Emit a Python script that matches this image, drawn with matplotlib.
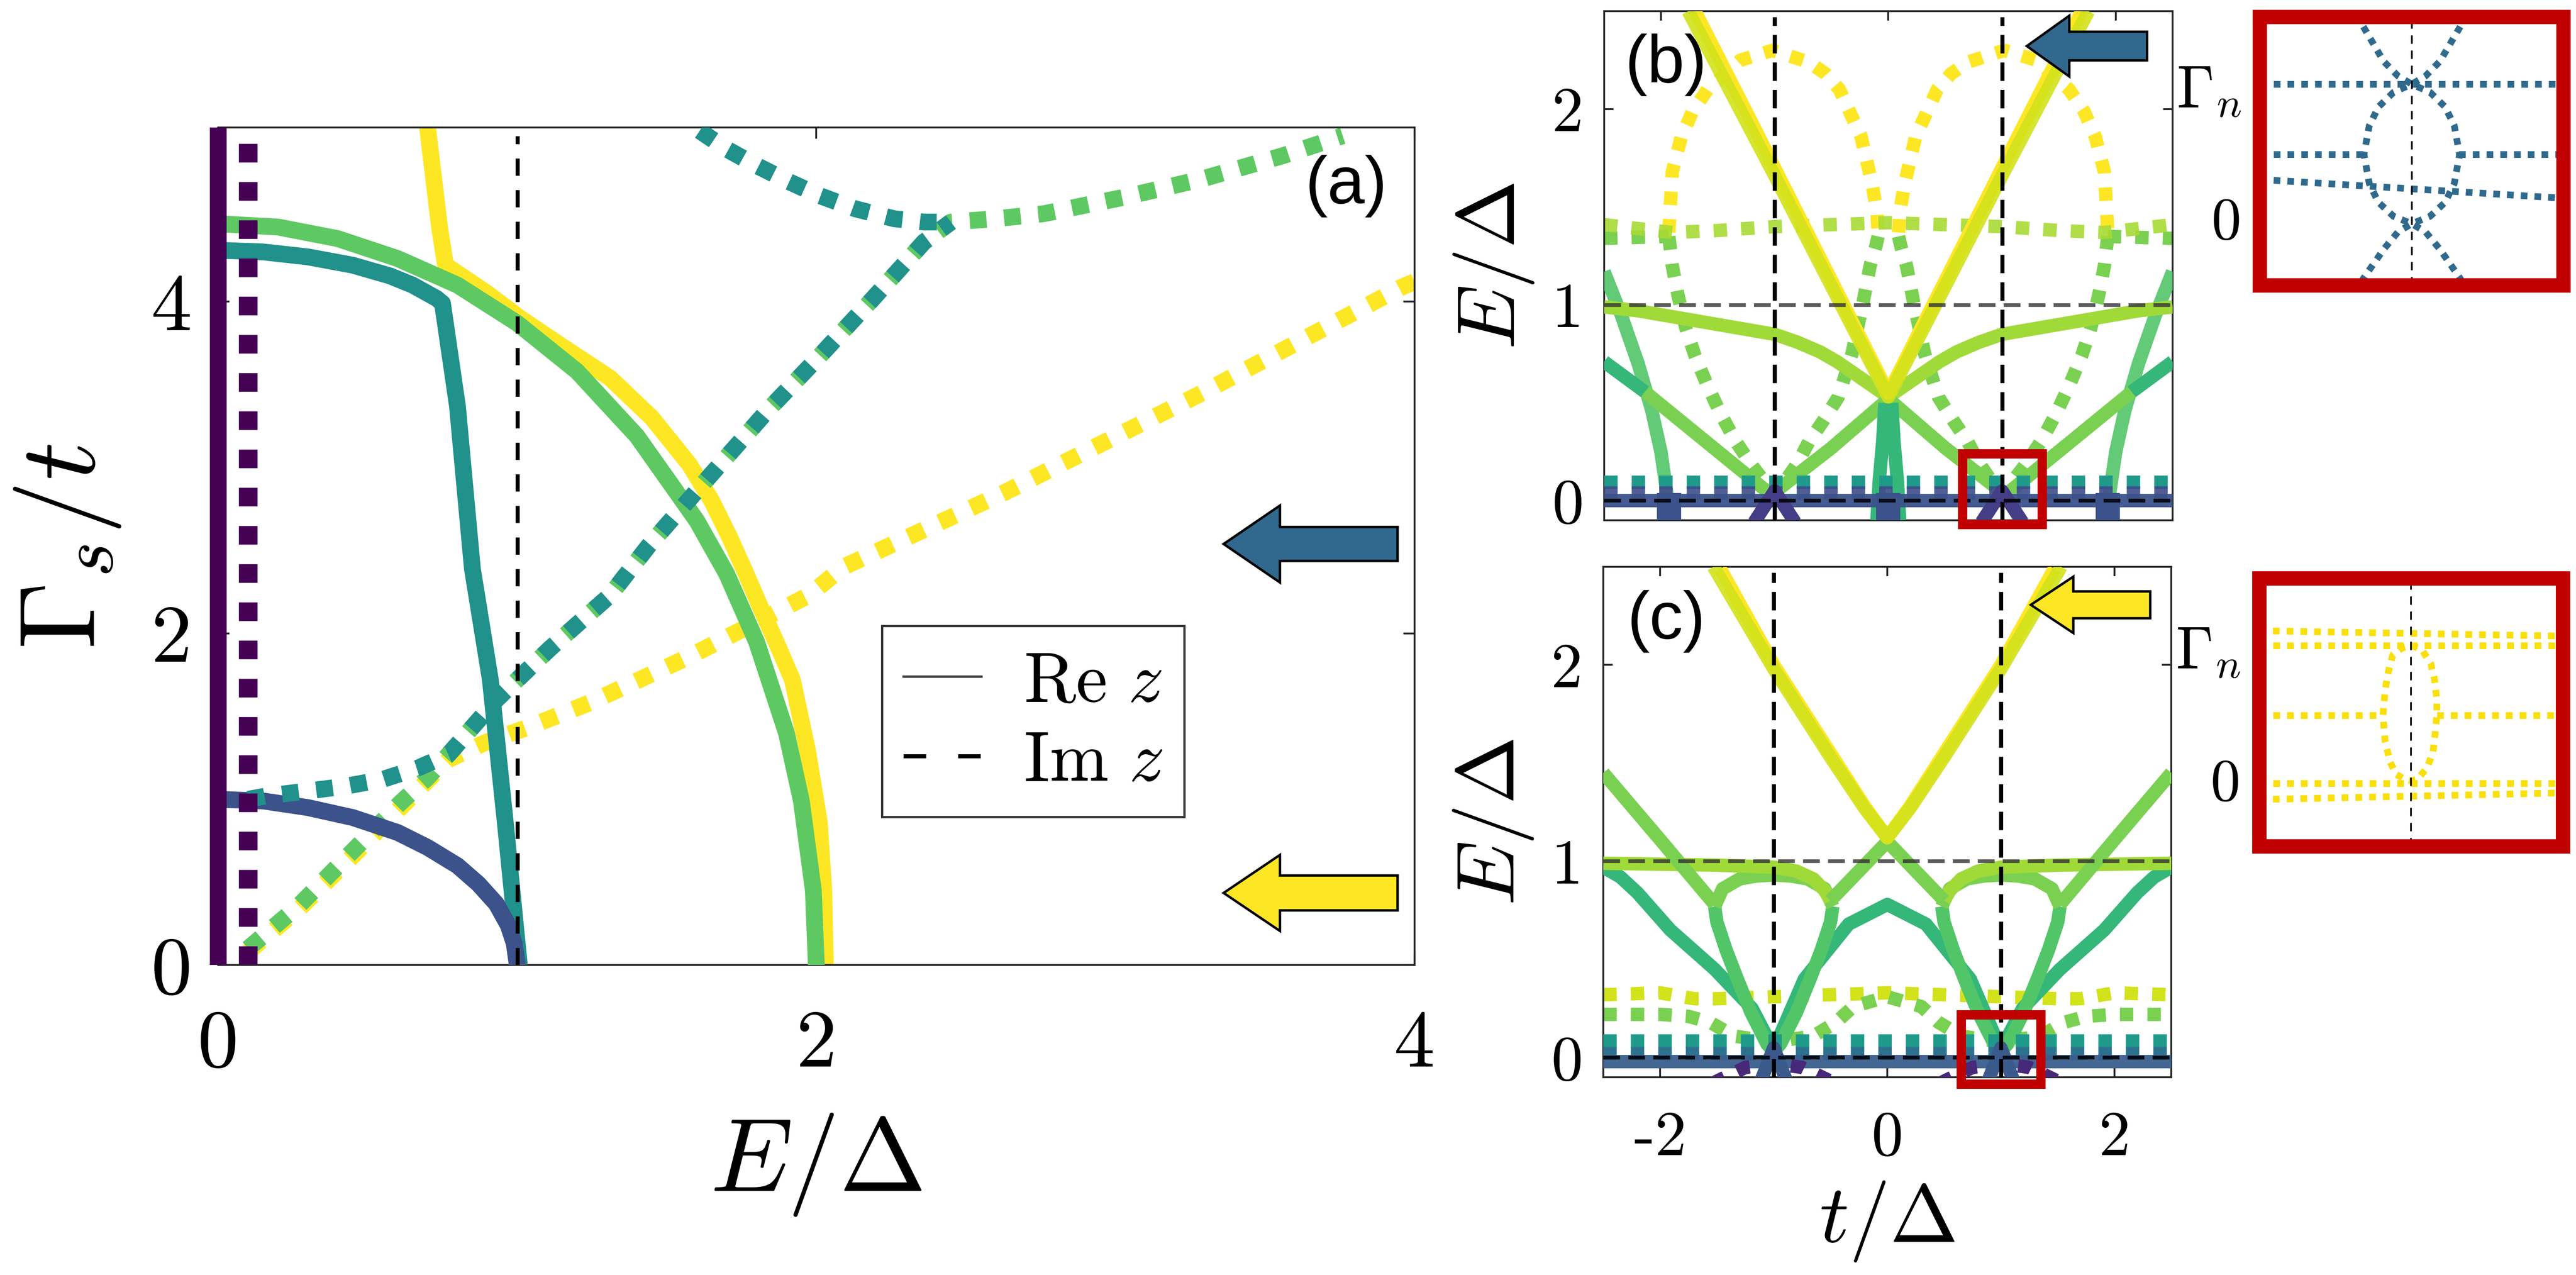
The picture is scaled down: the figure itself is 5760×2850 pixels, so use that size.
import numpy as np
import matplotlib
matplotlib.use('Agg')
from matplotlib import pyplot as plt
from matplotlib.lines import Line2D
from matplotlib.patches import Polygon, Rectangle

plt.rcParams['mathtext.fontset'] = 'cm'
plt.rcParams['font.family'] = ['DejaVu Sans']
plt.rcParams['axes.unicode_minus'] = False

# ---------------- panel (a): Gamma_s/t versus E/Delta ----------------
a_purple_E, a_purple_G = [0.0, 0.0], [0.0, 5.05]
a_purpdot_E, a_purpdot_G = [0.1, 0.1], [0.0, 5.0]
a_blue_E = [0.0, 0.15, 0.3, 0.45, 0.6, 0.7, 0.8, 0.87, 0.93, 0.97, 0.99, 1.0]
a_blue_G = [1.0, 0.99, 0.95, 0.89, 0.80, 0.71, 0.60, 0.49, 0.37, 0.24, 0.13, 0.0]
a_green_E = [0.0, 0.2, 0.4, 0.6, 0.8, 1.0, 1.2, 1.4, 1.6, 1.7, 1.8, 1.9, 1.95, 1.99, 2.0]
a_green_G = [4.47, 4.45, 4.38, 4.26, 4.10, 3.87, 3.58, 3.19, 2.68, 2.36, 1.95, 1.40, 0.99, 0.45, 0.0]
a_yel_E = [0.70, 0.72, 0.74, 0.76, 0.9, 1.01, 1.15, 1.31, 1.45, 1.575, 1.65, 1.71, 1.76, 1.815,
           1.87, 1.92, 1.97, 2.01, 2.025, 2.03]
a_yel_G = [5.05, 4.75, 4.45, 4.22, 4.05, 3.90, 3.73, 3.54, 3.30, 3.02, 2.80, 2.58, 2.38, 2.15,
           1.93, 1.72, 1.30, 0.86, 0.45, 0.0]
a_teal_E = [0.0, 0.15, 0.3, 0.45, 0.575, 0.65, 0.73, 0.75, 0.80, 0.85, 0.91, 0.96, 1.007]
a_teal_G = [4.31, 4.30, 4.27, 4.22, 4.155, 4.10, 4.02, 3.99, 3.37, 2.39, 1.72, 0.86, 0.0]
# dotted (Im z) branches
a_tealdot_up_E = [1.61, 1.70, 1.79, 1.90, 2.01, 2.13, 2.26, 2.36, 2.45]
a_tealdot_up_G = [5.03, 4.92, 4.83, 4.73, 4.64, 4.56, 4.50, 4.48, 4.48]
a_tealdot_lo_E = [0.1, 0.16, 0.3, 0.43, 0.55, 0.67, 0.77, 0.93, 1.11, 1.31, 1.44, 1.61, 1.84, 2.01,
                  2.19, 2.36, 2.45]
a_tealdot_lo_G = [1.0, 1.02, 1.05, 1.08, 1.12, 1.19, 1.27, 1.60, 1.91, 2.23, 2.53, 2.88, 3.35, 3.67,
                  4.02, 4.36, 4.48]
a_greendot_E = [0.1, 0.27, 0.44, 0.61, 0.70, 0.77, 0.93, 1.11, 1.31, 1.44, 1.61, 1.84, 2.01, 2.19, 2.36,
                2.45, 2.6, 2.76, 3.03, 3.29, 3.56, 3.76]
a_greendot_G = [0.1, 0.36, 0.67, 0.98, 1.13, 1.27, 1.60, 1.91, 2.23, 2.53, 2.88, 3.35, 3.67, 4.02, 4.36,
                4.48, 4.50, 4.53, 4.63, 4.74, 4.88, 5.0]
a_yeldot_E = [0.1, 0.27, 0.44, 0.61, 0.77, 0.89, 1.03, 1.24, 1.575, 1.975, 2.09, 2.63, 3.29, 3.96, 4.0]
a_yeldot_G = [0.08, 0.34, 0.64, 0.95, 1.24, 1.34, 1.43, 1.58, 1.86, 2.23, 2.40, 2.85, 3.45, 4.09, 4.12]

# ---------------- panel (b): E/Delta versus t/Delta ----------------
b_yel_t = [-1.70, -1.2, -0.6, 0.0, 0.6, 1.2, 1.70]
b_yel_E = [2.5, 1.93, 1.24, 0.55, 1.24, 1.93, 2.5]
b_yg_t = [-1.76, -1.0, 0.0, 1.0, 1.76]
b_yg_E = [2.5, 1.66, 0.53, 1.66, 2.5]
b_arc_t = [-2.5, -2.2, -1.9, -1.5, -1.0, -0.8, -0.6, -0.45, -0.3, -0.15, 0.0,
           0.15, 0.3, 0.45, 0.6, 0.8, 1.0, 1.5, 1.9, 2.2, 2.5]
b_arc_E = [0.99, 0.97, 0.94, 0.90, 0.85, 0.81, 0.76, 0.71, 0.65, 0.59, 0.53,
           0.59, 0.65, 0.71, 0.76, 0.81, 0.85, 0.90, 0.94, 0.97, 0.99]
b_zig_t = [-2.14, -1.6, -1.03, -0.5, 0.0, 0.5, 1.03, 1.6, 2.14]
b_zig_E = [0.556, 0.30, 0.03, 0.27, 0.52, 0.27, 0.03, 0.30, 0.556]
b_kinkL_t, b_kinkL_E = [-2.5, -2.14], [0.71, 0.556]
b_kinkR_t, b_kinkR_E = [2.14, 2.5], [0.556, 0.71]
b_steepL_t = [-2.5, -2.35, -2.2, -2.08, -2.0, -1.95, -1.93]
b_steepL_E = [1.17, 0.95, 0.70, 0.46, 0.25, 0.05, -0.1]
b_steepR_t = [2.5, 2.35, 2.2, 2.08, 2.0, 1.95, 1.93]
b_steepR_E = [1.17, 0.95, 0.70, 0.46, 0.25, 0.05, -0.1]
b_stemL_t, b_stemL_E = [-0.03, -0.05, -0.08, -0.1], [0.5, 0.3, 0.1, -0.1]
b_stemR_t, b_stemR_E = [0.03, 0.05, 0.08, 0.1], [0.5, 0.3, 0.1, -0.1]
b_archL_t = [-1.93, -1.92, -1.9, -1.82, -1.72, -1.59, -1.3, -1.02, -0.7, -0.55, -0.43, -0.24, -0.14,
             -0.1, -0.09]
b_archL_E = [1.37, 1.48, 1.68, 1.86, 1.99, 2.10, 2.25, 2.30, 2.24, 2.18, 2.10, 1.86, 1.61, 1.47, 1.37]
b_archR_t = [0.09, 0.1, 0.14, 0.24, 0.43, 0.55, 0.7, 1.02, 1.3, 1.59, 1.72, 1.82, 1.9, 1.92, 1.93]
b_archR_E = [1.37, 1.47, 1.61, 1.86, 2.10, 2.18, 2.24, 2.30, 2.25, 2.10, 1.99, 1.86, 1.68, 1.48, 1.37]
b_loopL_t = [-1.93, -1.90, -1.85, -1.78, -1.70, -1.60, -1.48, -1.35, -1.2, -1.08, -1.0,
             -0.92, -0.8, -0.7, -0.57, -0.44, -0.32, -0.22, -0.16, -0.11, -0.09]
b_loopL_E = [1.35, 1.2, 1.05, 0.88, 0.74, 0.6, 0.45, 0.31, 0.18, 0.09, 0.04,
             0.09, 0.19, 0.30, 0.41, 0.53, 0.75, 1.02, 1.2, 1.3, 1.35]
b_loopR_t = [0.09, 0.11, 0.16, 0.22, 0.32, 0.44, 0.57, 0.7, 0.8, 0.92, 1.0,
             1.08, 1.2, 1.35, 1.48, 1.60, 1.70, 1.78, 1.85, 1.90, 1.93]
b_loopR_E = [1.35, 1.3, 1.2, 1.02, 0.75, 0.53, 0.41, 0.30, 0.19, 0.09, 0.04,
             0.09, 0.18, 0.31, 0.45, 0.6, 0.74, 0.88, 1.05, 1.2, 1.35]
b_ygdot_t = [-2.5, -2.2, -1.9, -1.5, -1.0, -0.5, 0.0, 0.5, 1.0, 1.5, 1.9, 2.2, 2.5]
b_ygdot_E = [1.41, 1.39, 1.37, 1.38, 1.40, 1.41, 1.42, 1.41, 1.40, 1.38, 1.37, 1.39, 1.41]
b_gdotL_t, b_gdotL_E = [-2.5, -2.2, -1.93], [1.34, 1.345, 1.35]
b_gdotR_t, b_gdotR_E = [1.93, 2.2, 2.5], [1.35, 1.345, 1.34]
b_band_t = [-2.5, 2.5]
b_tealdot_E = [0.095, 0.095]
b_bluedot_E = [0.04, 0.04]
b_blue_E = [0.0, 0.0]
b_lamL_t, b_lamL_E = [-1.18, -1.0, -0.82], [-0.11, 0.05, -0.11]
b_lamR_t, b_lamR_E = [0.82, 1.0, 1.18], [-0.11, 0.05, -0.11]
b_stub_t = [-1.93, 0.0, 1.93]

# ---------------- panel (c) ----------------
c_yel_t = [-1.47, -1.0, -0.5, -0.2, 0.0, 0.2, 0.5, 1.0, 1.47]
c_yel_E = [2.49, 2.0, 1.55, 1.28, 1.12, 1.28, 1.55, 2.0, 2.49]
c_yg_t = [-1.53, -1.0, -0.5, -0.2, 0.0, 0.2, 0.5, 1.0, 1.53]
c_yg_E = [2.5, 1.98, 1.53, 1.27, 1.12, 1.27, 1.53, 1.98, 2.5]
c_lgL_t, c_lgL_E = [-2.5, -2.0, -1.52], [1.45, 1.11, 0.78]
c_lgC_t, c_lgC_E = [-0.5, -0.25, 0.0, 0.25, 0.5], [0.80, 0.95, 1.10, 0.95, 0.80]
c_lgR_t, c_lgR_E = [1.52, 2.0, 2.5], [0.78, 1.11, 1.45]
c_archL_t = [-1.52, -1.45, -1.3, -1.15, -1.0, -0.85, -0.7, -0.55, -0.48]
c_archR_t = [0.48, 0.55, 0.7, 0.85, 1.0, 1.15, 1.3, 1.45, 1.52]
c_arch_E = [0.77, 0.86, 0.91, 0.925, 0.93, 0.925, 0.91, 0.86, 0.77]
c_vL_t = [-1.52, -1.50, -1.42, -1.32, -1.2, -1.06, -1.0, -0.94, -0.8, -0.68, -0.58, -0.50, -0.48]
c_vR_t = [0.48, 0.50, 0.58, 0.68, 0.8, 0.94, 1.0, 1.06, 1.2, 1.32, 1.42, 1.50, 1.52]
c_v_E = [0.77, 0.69, 0.55, 0.40, 0.23, 0.07, 0.03, 0.07, 0.23, 0.40, 0.55, 0.69, 0.77]
c_big_t = [-2.5, -2.35, -2.2, -1.91, -1.52, -1.19, -1.0, -0.73, -0.34, 0.0, 0.34, 0.73, 1.0,
           1.19, 1.52, 1.91, 2.2, 2.35, 2.5]
c_big_E = [0.97, 0.92, 0.84, 0.65, 0.45, 0.25, 0.04, 0.40, 0.68, 0.78, 0.68, 0.40, 0.04,
           0.25, 0.45, 0.65, 0.84, 0.92, 0.97]
c_flatL_t = [-2.5, -2.0, -1.5, -1.0, -0.8, -0.65, -0.55, -0.5]
c_flatR_t = [0.5, 0.55, 0.65, 0.8, 1.0, 1.5, 2.0, 2.5]
c_flatL_E = [0.99, 0.985, 0.98, 0.97, 0.95, 0.91, 0.85, 0.80]
c_flatR_E = [0.80, 0.85, 0.91, 0.95, 0.97, 0.98, 0.985, 0.99]
c_ygdot_t = [-2.5, -2.0, -1.7, -1.5, -1.0, -0.5, 0.0, 0.5, 1.0, 1.5, 1.7, 2.0, 2.5]
c_ygdot_E = [0.32, 0.33, 0.30, 0.30, 0.31, 0.32, 0.33, 0.32, 0.31, 0.30, 0.30, 0.33, 0.32]
c_gdot_t = [-2.5, -2.0, -1.75, -1.56, -1.35, -1.0, -0.65, -0.45, -0.3, 0.0, 0.3, 0.45, 0.65,
            1.0, 1.35, 1.56, 1.75, 2.0, 2.5]
c_gdot_E = [0.22, 0.22, 0.21, 0.18, 0.11, 0.08, 0.11, 0.18, 0.26, 0.31, 0.26, 0.18, 0.11,
            0.08, 0.11, 0.18, 0.21, 0.22, 0.22]
c_band_t = [-2.5, 2.5]
c_tealdot_E = [0.085, 0.085]
c_bluedot_E = [0.02, 0.02]
c_blue_E = [-0.02, -0.02]
c_purpL_t = [-1.75, -1.5, -1.25, -1.0, -0.75, -0.5, -0.25]
c_purpR_t = [0.25, 0.5, 0.75, 1.0, 1.25, 1.5, 1.75]
c_purp_E = [-0.2, -0.12, -0.05, -0.03, -0.05, -0.12, -0.2]
c_lamL_t, c_lamL_E = [-1.12, -1.0, -0.88], [-0.13, 0.05, -0.13]
c_lamR_t, c_lamR_E = [0.88, 1.0, 1.12], [-0.13, 0.05, -0.13]

# ---------------- zoom insets ----------------
ib_top_x, ib_top_y = [-1, 1], [1.0, 1.0]
ib_midL_x, ib_midR_x, ib_mid_y = [-1, -0.32], [0.31, 1], [0.477, 0.477]
ib_slope_x, ib_slope_y = [-1, 1], [0.29, 0.15]
ib_A_x = [-0.36, -0.32, -0.185, -0.09, 0.0, 0.12, 0.22, 0.28, 0.315, 0.28, 0.22, 0.12, 0.0,
          -0.09, -0.185, -0.32, -0.36]
ib_B_x = [0.36, 0.32, 0.185, 0.09, 0.0, -0.12, -0.22, -0.28, -0.315, -0.28, -0.22, -0.12, 0.0,
          0.09, 0.185, 0.32, 0.36]
ib_AB_y = [1.52, 1.43, 1.17, 1.06, 1.0, 0.94, 0.83, 0.69, 0.477, 0.26, 0.12, 0.015, -0.04,
           -0.10, -0.23, -0.45, -0.53]

ic_line_x = [-1, 1]
ic_top1_y, ic_top2_y = [1.11, 1.07], [1.0, 1.0]
ic_midL_x, ic_midR_x, ic_mid_y = [-1, -0.185], [0.17, 1], [0.48, 0.48]
ic_bot1_y, ic_bot2_y = [-0.03, -0.03], [-0.15, -0.10]
ic_loop_x = [0.0, 0.07, 0.13, 0.155, 0.17, 0.17, 0.16, 0.145, 0.105, 0.04, 0.0, -0.04, -0.10, -0.137,
             -0.17, -0.185, -0.17, -0.15, -0.12, -0.06, 0.0]
ic_loop_y = [1.0, 0.97, 0.865, 0.745, 0.595, 0.48, 0.355, 0.205, 0.085, 0.0, -0.01, 0.0, 0.04, 0.13,
             0.28, 0.48, 0.67, 0.80, 0.93, 0.98, 1.0]

# ---------------- styles ----------------
DOT = (0, (1, 1.05))
V = {'purple': '#440154', 'blue': '#3B528B', 'teal': '#21918C', 'green': '#5EC962',
     'yellow': '#FDE725', 'yg': '#D2E21B', 'lg': '#A0DA39', 'g': '#7AD151', 'mg': '#52C569',
     'tg': '#35B779', 'dteal': '#1F9A8A', 'dblue': '#3E4C8A', 'indigo': '#433E85',
     'arrowblue': '#31688E', 'iblue': '#2F6A8D', 'iyel': '#FADF0A'}
RED = '#C00000'
TICKFONT = 'cmr10'
LABELFONT = ['Liberation Sans', 'DejaVu Sans']


def solid(ax, x, y, c, lw, **kw):
    ax.plot(x, y, color=c, lw=lw, solid_capstyle='butt', solid_joinstyle='round', **kw)


def dotted(ax, x, y, c, lw, **kw):
    ax.plot(x, y, color=c, lw=lw, ls=DOT, dash_capstyle='butt', **kw)


def style_axes(ax, fs, ticklen):
    ax.tick_params(direction='in', top=True, right=True, length=ticklen, width=1.0,
                   colors='#262626', labelcolor='black', labelsize=fs)
    for s in ax.spines.values():
        s.set_linewidth(1.0)
        s.set_color('#262626')


fig = plt.figure(figsize=(19.2, 9.5), dpi=300)
W, H = 5760, 2850

# ======================== (a) ========================
axa = fig.add_axes([0.0847, 0.2430, 0.4644, 0.6570])
LA = 9.0
solid(axa, a_purple_E, a_purple_G, V['purple'], LA, zorder=5, clip_on=False)
dotted(axa, a_purpdot_E, a_purpdot_G, V['purple'], 10, zorder=5)
solid(axa, a_yel_E, a_yel_G, V['yellow'], LA, zorder=2)
solid(axa, a_green_E, a_green_G, V['green'], LA, zorder=3)
solid(axa, a_teal_E, a_teal_G, V['teal'], LA, zorder=3)
solid(axa, a_blue_E, a_blue_G, V['blue'], LA, zorder=3)
dotted(axa, a_yeldot_E, a_yeldot_G, V['yellow'], LA, zorder=2)
dotted(axa, a_greendot_E, a_greendot_G, V['green'], LA, zorder=2)
dotted(axa, a_tealdot_lo_E, a_tealdot_lo_G, V['teal'], LA, zorder=3)
dotted(axa, a_tealdot_up_E, a_tealdot_up_G, V['teal'], LA, zorder=3)
axa.plot([1, 1], [0, 5.0], color='black', lw=2.2, ls=(0, (4.2, 3.5)), zorder=4)
axa.set_xlim(0, 4)
axa.set_ylim(0, 5.05)
axa.set_xticks([0, 2, 4])
axa.set_yticks([0, 2, 4])
axa.set_xticklabels(['0', '2', '4'], fontfamily=TICKFONT)
axa.set_yticklabels(['0', '2', '4'], fontfamily=TICKFONT)
style_axes(axa, 44, 6)
axa.tick_params(axis='x', pad=24)
axa.tick_params(axis='y', pad=14)
axa.set_xlabel(r'$E/\Delta$', fontsize=56)
axa.xaxis.set_label_coords(0.5, -0.175)
axa.set_ylabel(r'$\Gamma_s/t$', fontsize=58)
axa.yaxis.set_label_coords(-0.08, 0.5)
axa.text(0.943, 0.93, '(a)', transform=axa.transAxes, ha='center', va='center',
         fontsize=36, family=LABELFONT)
leg_handles = [Line2D([], [], color='#404040', lw=1.3),
               Line2D([], [], color='black', lw=2.2, ls=(0, (5.5, 7.8)))]
leg = axa.legend(leg_handles, [r'$\mathrm{Re}\ z$', r'$\mathrm{Im}\ z$'], loc='upper left',
                 bbox_to_anchor=(0.555, 0.405), fontsize=38, frameon=True, fancybox=False,
                 framealpha=1, edgecolor='#333333', handlelength=1.1, handletextpad=0.6,
                 borderpad=0.3, labelspacing=0.15, borderaxespad=0)
leg.get_frame().set_linewidth(1.2)

# ======================== (b) ========================
axb = fig.add_axes([0.6227, 0.5919, 0.2207, 0.3993])
LB = 7.2
dotted(axb, b_archL_t, b_archL_E, V['yellow'], LB, zorder=2)
dotted(axb, b_archR_t, b_archR_E, V['yellow'], LB, zorder=2)
dotted(axb, b_loopL_t, b_loopL_E, V['g'], LB, zorder=2)
dotted(axb, b_loopR_t, b_loopR_E, V['g'], LB, zorder=2)
dotted(axb, b_gdotL_t, b_gdotL_E, V['g'], LB, zorder=2)
dotted(axb, b_gdotR_t, b_gdotR_E, V['g'], LB, zorder=2)
dotted(axb, b_ygdot_t, b_ygdot_E, '#A8DB34', LB, zorder=2, alpha=0.9)
solid(axb, b_steepL_t, b_steepL_E, V['mg'], LB, zorder=3, alpha=0.9)
solid(axb, b_steepR_t, b_steepR_E, V['mg'], LB, zorder=3, alpha=0.9)
solid(axb, b_kinkL_t, b_kinkL_E, V['tg'], LB, zorder=3)
solid(axb, b_kinkR_t, b_kinkR_E, V['tg'], LB, zorder=3)
solid(axb, b_arc_t, b_arc_E, V['lg'], LB, zorder=3)
solid(axb, b_zig_t, b_zig_E, V['g'], LB, zorder=3)
solid(axb, b_stemL_t, b_stemL_E, V['tg'], LB, zorder=3)
solid(axb, b_stemR_t, b_stemR_E, V['tg'], LB, zorder=3)
solid(axb, b_yel_t, b_yel_E, V['yellow'], LB, zorder=4)
solid(axb, b_yg_t, b_yg_E, V['yg'], LB, zorder=4, alpha=0.9)
dotted(axb, b_band_t, b_tealdot_E, V['dteal'], LB, zorder=5)
dotted(axb, b_band_t, b_bluedot_E, V['dblue'], LB, zorder=5, alpha=0.9)
solid(axb, b_band_t, b_blue_E, V['blue'], LB, zorder=5, alpha=0.95)
for tt in b_stub_t:
    solid(axb, [tt, tt], [0.04, -0.1], V['blue'], 13, zorder=5)
solid(axb, b_lamL_t, b_lamL_E, V['indigo'], LB, zorder=6)
solid(axb, b_lamR_t, b_lamR_E, V['indigo'], LB, zorder=6)

# ======================== (c) ========================
axc = fig.add_axes([0.6224, 0.1551, 0.2205, 0.4004])
dotted(axc, c_ygdot_t, c_ygdot_E, V['yg'], LB, zorder=2)
dotted(axc, c_gdot_t, c_gdot_E, V['g'], LB, zorder=2)
solid(axc, c_big_t, c_big_E, V['tg'], LB, zorder=3)
solid(axc, c_vL_t, c_v_E, V['mg'], LB, zorder=3)
solid(axc, c_vR_t, c_v_E, V['mg'], LB, zorder=3)
solid(axc, c_archL_t, c_arch_E, V['g'], LB, zorder=3)
solid(axc, c_archR_t, c_arch_E, V['g'], LB, zorder=3)
solid(axc, c_flatL_t, c_flatL_E, V['lg'], LB, zorder=3)
solid(axc, c_flatR_t, c_flatR_E, V['lg'], LB, zorder=3)
solid(axc, c_lgL_t, c_lgL_E, V['g'], LB, zorder=3)
solid(axc, c_lgC_t, c_lgC_E, V['g'], LB, zorder=3)
solid(axc, c_lgR_t, c_lgR_E, V['g'], LB, zorder=3)
solid(axc, c_yel_t, c_yel_E, V['yellow'], LB, zorder=4)
solid(axc, c_yg_t, c_yg_E, V['yg'], LB, zorder=4, alpha=0.9)
dotted(axc, c_band_t, c_tealdot_E, V['dteal'], LB, zorder=5)
dotted(axc, c_band_t, c_bluedot_E, '#2C728E', LB, zorder=5)
solid(axc, c_band_t, c_blue_E, '#3A5E8C', LB, zorder=5, alpha=0.95)
dotted(axc, c_purpL_t, c_purp_E, '#482878', LB, zorder=6)
dotted(axc, c_purpR_t, c_purp_E, '#482878', LB, zorder=6)
solid(axc, c_lamL_t, c_lamL_E, '#3B5A8C', LB, zorder=6)
solid(axc, c_lamR_t, c_lamR_E, '#3B5A8C', LB, zorder=6)

for ax, box in ((axb, (0.65, -0.12, 0.7, 0.36)), (axc, (0.65, -0.135, 0.7, 0.355))):
    for tt in (-1, 1):
        ax.plot([tt, tt], [-0.1, 2.47], color='black', lw=2.2, ls=(0, (4.5, 2.2)), zorder=7)
    ax.axhline(1.0, color='#333333', lw=2.0, ls=(0, (4.5, 2.2)), alpha=0.8, zorder=7)
    ax.axhline(0.0, color='black', lw=2.0, ls=(0, (4.5, 2.2)), alpha=0.85, zorder=7)
    ax.add_patch(Rectangle(box[:2], box[2], box[3], fill=False, ec=RED, lw=5,
                           clip_on=False, zorder=8))
    ax.set_xlim(-2.5, 2.5)
    ax.set_ylim(-0.1, 2.5)
    ax.set_xticks([-2, 0, 2])
    ax.set_yticks([0, 1, 2])
    ax.set_yticklabels(['0', '1', '2'], fontfamily=TICKFONT)
    style_axes(ax, 34, 5)
    ax.tick_params(axis='y', pad=11)
    ax.set_ylabel(r'$E/\Delta$', fontsize=44)
    ax.yaxis.set_label_coords(-0.12, 0.5)
axb.set_xticklabels([])
axc.set_xticklabels(['-2', '0', '2'], fontfamily=TICKFONT)
axc.tick_params(axis='x', pad=18)
axc.set_xlabel(r'$t/\Delta$', fontsize=44)
axc.xaxis.set_label_coords(0.5, -0.2)
axb.text(0.109, 0.895, '(b)', transform=axb.transAxes, ha='center', va='center',
         fontsize=36, family=LABELFONT, zorder=9)
axc.text(0.111, 0.893, '(c)', transform=axc.transAxes, ha='center', va='center',
         fontsize=36, family=LABELFONT, zorder=9)

# ======================== insets ========================
axib = fig.add_axes([0.8773, 0.7761, 0.1179, 0.2105])
LI = 3.6
dotted(axib, ib_top_x, ib_top_y, V['iblue'], LI)
dotted(axib, ib_midL_x, ib_mid_y, V['iblue'], LI)
dotted(axib, ib_midR_x, ib_mid_y, V['iblue'], LI)
dotted(axib, ib_slope_x, ib_slope_y, V['iblue'], LI)
dotted(axib, ib_A_x, ib_AB_y, V['iblue'], LI)
dotted(axib, ib_B_x, ib_AB_y, V['iblue'], LI)

axic = fig.add_axes([0.8770, 0.3361, 0.1179, 0.2102])
for yy in (ic_top1_y, ic_top2_y, ic_bot1_y, ic_bot2_y):
    dotted(axic, ic_line_x, yy, V['iyel'], LI)
dotted(axic, ic_midL_x, ic_mid_y, V['iyel'], LI)
dotted(axic, ic_midR_x, ic_mid_y, V['iyel'], LI)
dotted(axic, ic_loop_x, ic_loop_y, V['iyel'], LI)

for ax in (axib, axic):
    ax.plot([0, 0], [-0.5, 1.5], color='black', lw=0.9, ls=(0, (5, 4)))
    ax.set_xlim(-1, 1)
    ax.set_ylim(-0.5, 1.5)
    ax.set_xticks([])
    ax.set_yticks([0, 1])
    ax.set_yticklabels(['0', r'$\Gamma_n$'], fontsize=32)
    ax.get_yticklabels()[0].set_fontfamily(TICKFONT)
    ax.tick_params(axis='y', length=0, pad=10)
    for s in ax.spines.values():
        s.set_color(RED)
        s.set_linewidth(7.7)


# ======================== arrows (figure pixels, rows from the top) ========================
def left_arrow(tip, base, right, yc, bh, hh, color):
    pts = [(tip, yc), (base, yc - hh), (base, yc - bh), (right, yc - bh),
           (right, yc + bh), (base, yc + bh), (base, yc + hh)]
    pts = [(x / W, 1 - y / H) for x, y in pts]
    fig.add_artist(Polygon(pts, closed=True, transform=fig.transFigure,
                           fc=color, ec='black', lw=1.3, zorder=20))


left_arrow(2736, 2862, 3125, 1216, 38, 86, V['arrowblue'])
left_arrow(2736, 2862, 3125, 1996, 39, 85, V['yellow'])
left_arrow(4532, 4627, 4801, 103, 32, 68, V['arrowblue'])
left_arrow(4541, 4636, 4808, 1352, 30, 63, V['yellow'])

fig.savefig('out.png', dpi=300)
